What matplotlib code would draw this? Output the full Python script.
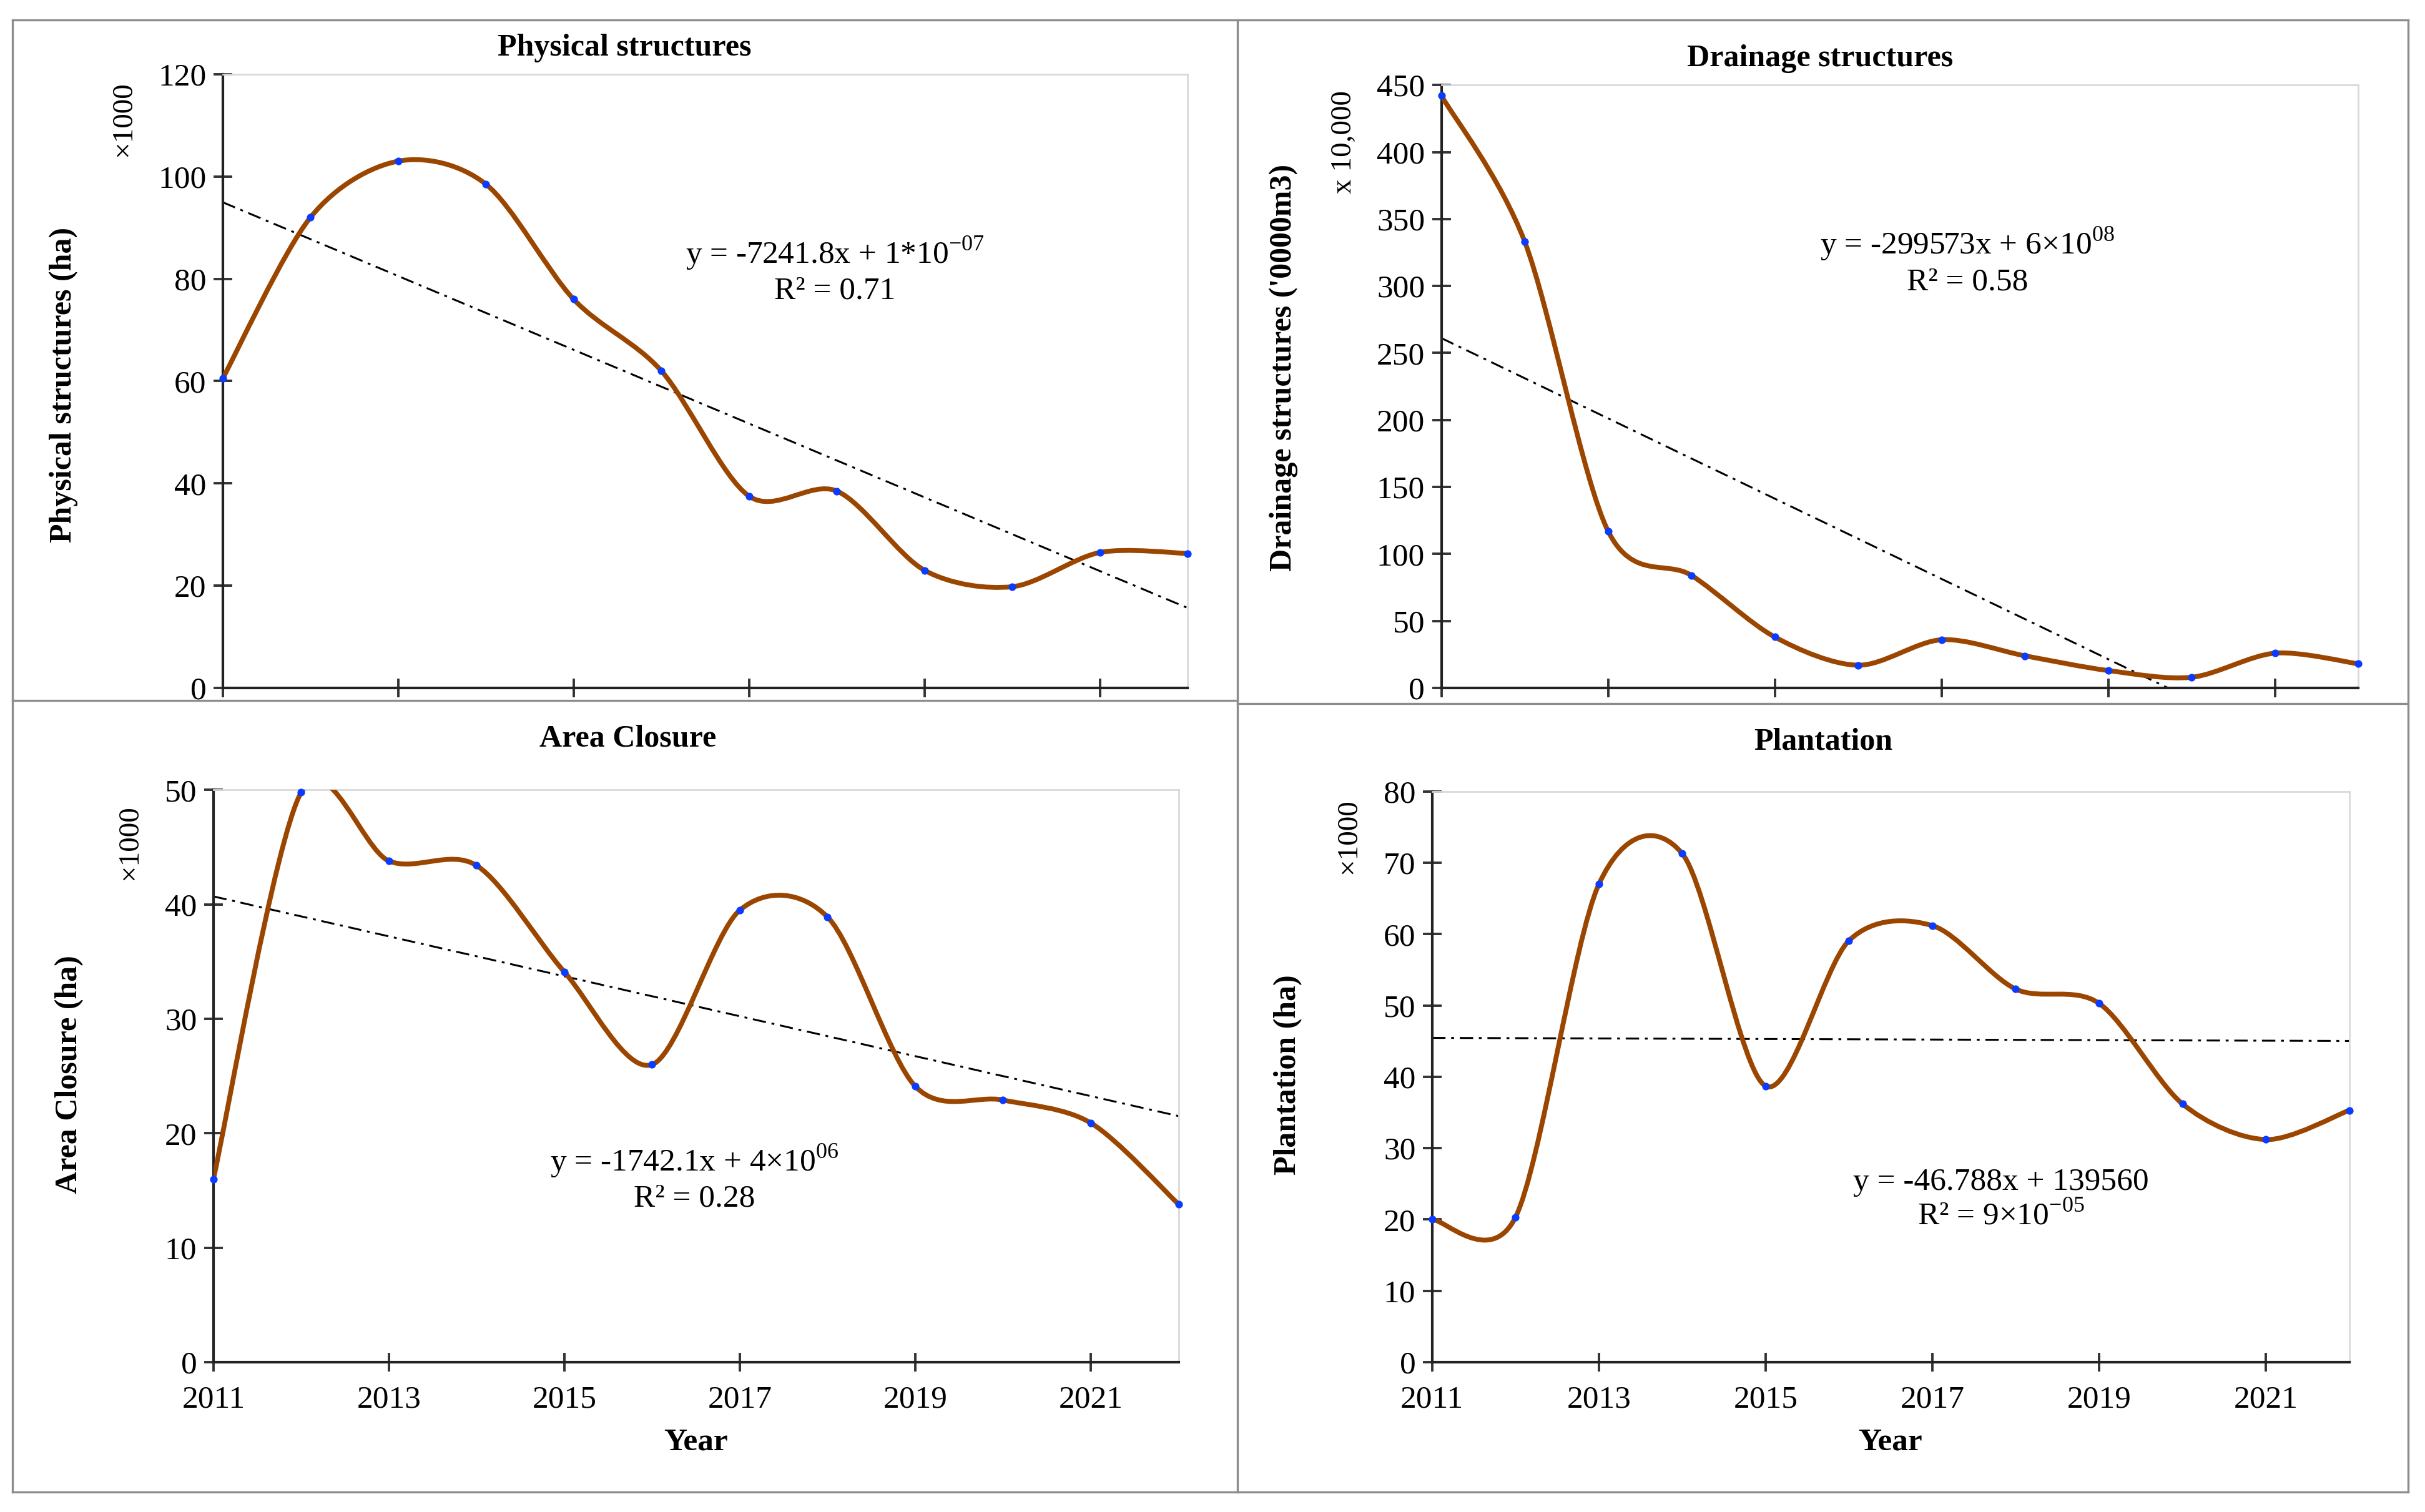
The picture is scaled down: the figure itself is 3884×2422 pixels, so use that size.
import numpy as np
import matplotlib
matplotlib.use("Agg")
import matplotlib.pyplot as plt
from matplotlib.path import Path
from matplotlib.patches import PathPatch
from matplotlib.lines import Line2D

plt.rcParams["font.family"] = ["Liberation Serif", "DejaVu Serif"]
plt.rcParams["mathtext.fontset"] = "custom"
plt.rcParams["mathtext.rm"] = "Liberation Serif"

YEARS = list(range(2011, 2023))

# values (in the units of each axis)
physical = [60.5, 92, 103, 98.5, 76, 62, 37.5, 38.5, 23, 19.8, 26.5, 26.3]
drainage = [442, 333, 117, 84, 38, 17, 36, 24, 13, 8, 26, 18]
area_closure = [16, 49.8, 43.8, 43.4, 34.1, 26, 39.5, 38.9, 24.1, 22.9, 20.9, 13.8]
plantation = [20, 20.3, 67, 71.3, 38.7, 59.1, 61.2, 52.3, 50.3, 36.2, 31.2, 35.3]

TITLES = ["Physical structures", "Drainage structures", "Area Closure", "Plantation"]
YLABELS = ["Physical structures (ha)", "Drainage structures ('0000m3)",
           "Area Closure (ha)", "Plantation (ha)"]
UNITS = ["\u00d71000", "x 10,000", "\u00d71000", "\u00d71000"]
EQUATIONS = [
    "y = -7241.8x + 1*10$^{-07}$\nR\u00b2 = 0.71",
    "y = -299573x + 6\u00d710$^{08}$\nR\u00b2 = 0.58",
    "y = -1742.1x + 4\u00d710$^{06}$\nR\u00b2 = 0.28",
    "y = -46.788x + 139560\nR\u00b2 = 9\u00d710$^{-05}$",
]
YMAX = [120, 450, 50, 80]
YSTEP = [20, 50, 10, 10]

BROWN = "#9B4600"
BLUE = "#0A3CFF"
W, H = 1568.0, 978.0


def fx(x):
    return x / W


def fy(y):
    return 1 - y / H


def smooth_path(xs, ys, f=0.15):
    # Excel-like smoothed line: Catmull-Rom style cubic Bezier segments
    p = np.column_stack([xs, ys]).astype(float)
    n = len(p)
    verts = [p[0]]
    codes = [Path.MOVETO]
    for i in range(n - 1):
        p0 = p[i - 1] if i > 0 else p[i]
        p3 = p[i + 2] if i + 2 < n else p[i + 1]
        c1 = p[i] + (p[i + 1] - p0) * f
        c2 = p[i + 1] - (p3 - p[i]) * f
        verts += [c1, c2, p[i + 1]]
        codes += [Path.CURVE4] * 3
    return Path(verts, codes)


fig = plt.figure(figsize=(19.42, 12.11), dpi=200)

# axes boxes in reference pixels: left, top, right, bottom
boxes = [(144, 48, 768, 445), (932, 55, 1525, 445),
         (138, 511, 762, 881), (926, 512, 1519, 881)]
title_pos = [(404, 31), (1177, 38), (406, 478), (1179, 480)]
ylabel_pos = [(41, 249), (830, 238), (45, 695), (833, 695)]
unit_pos = [(80, 77), (869, 92), (84, 545), (872, 541)]
eq_pos = [(540, 175), (1272, 169), (449, 762), (1294, 776)]
year_pos = [None, None, (450, 933), (1222, 933)]

series = [physical, drainage, area_closure, plantation]

for k in range(4):
    l, t, r, b = boxes[k]
    ax = fig.add_axes([fx(l), fy(b), (r - l) / W, (b - t) / H])
    vals = series[k]

    patch = PathPatch(smooth_path(YEARS, vals), facecolor="none", edgecolor=BROWN,
                      lw=2.8, capstyle="round", joinstyle="round", zorder=3)
    ax.add_patch(patch)
    ax.plot(YEARS, vals, "o", ms=4.4, color=BLUE, mec="none", zorder=4, clip_on=False)

    slope, icpt = np.polyfit(YEARS, vals, 1)
    tx = np.array([2011, 2022])
    ax.plot(tx, slope * tx + icpt, color="black", lw=1.1,
            dashes=(7, 3, 1.5, 3), zorder=2)

    ax.set_xlim(2011, 2022)
    ax.set_ylim(0, YMAX[k])
    ax.set_yticks(np.arange(0, YMAX[k] + 1, YSTEP[k]))
    ax.set_xticks(range(2011, 2022, 2))
    if k < 2:
        ax.set_xticklabels([])
    ax.tick_params(direction="inout", length=11, width=1.4, color="#333333",
                   labelsize=18.5, pad=4)
    ax.tick_params(axis="x", pad=8)

    for side in ["left", "bottom"]:
        ax.spines[side].set_color("#222222")
        ax.spines[side].set_linewidth(1.5)
    for side in ["top", "right"]:
        ax.spines[side].set_color("#D9D9D9")
        ax.spines[side].set_linewidth(1.0)

    fig.text(fx(title_pos[k][0]), fy(title_pos[k][1]), TITLES[k], ha="center",
             va="center", fontsize=18, fontweight="bold")
    fig.text(fx(ylabel_pos[k][0]), fy(ylabel_pos[k][1]), YLABELS[k], ha="center",
             va="center", rotation=90, fontsize=18, fontweight="bold")
    fig.text(fx(unit_pos[k][0]), fy(unit_pos[k][1]), UNITS[k], ha="center",
             va="center", rotation=90, fontsize=17)
    fig.text(fx(eq_pos[k][0]), fy(eq_pos[k][1]), EQUATIONS[k], ha="center",
             va="center", multialignment="center", fontsize=18.5, linespacing=1.2)
    if year_pos[k]:
        fig.text(fx(year_pos[k][0]), fy(year_pos[k][1]), "Year", ha="center",
                 va="center", fontsize=18.5, fontweight="bold")

# panel frames
frame = dict(color="#8C8C8C", lw=1.2, transform=fig.transFigure)
for x0, y0, x1, y1 in [(8, 13, 1557, 13), (8, 965, 1557, 965), (8, 13, 8, 965),
                       (1557, 13, 1557, 965), (800, 13, 800, 965),
                       (8, 453, 800, 453), (800, 455, 1557, 455)]:
    fig.add_artist(Line2D([fx(x0), fx(x1)], [fy(y0), fy(y1)], **frame))

fig.savefig("out.png", dpi=200)
